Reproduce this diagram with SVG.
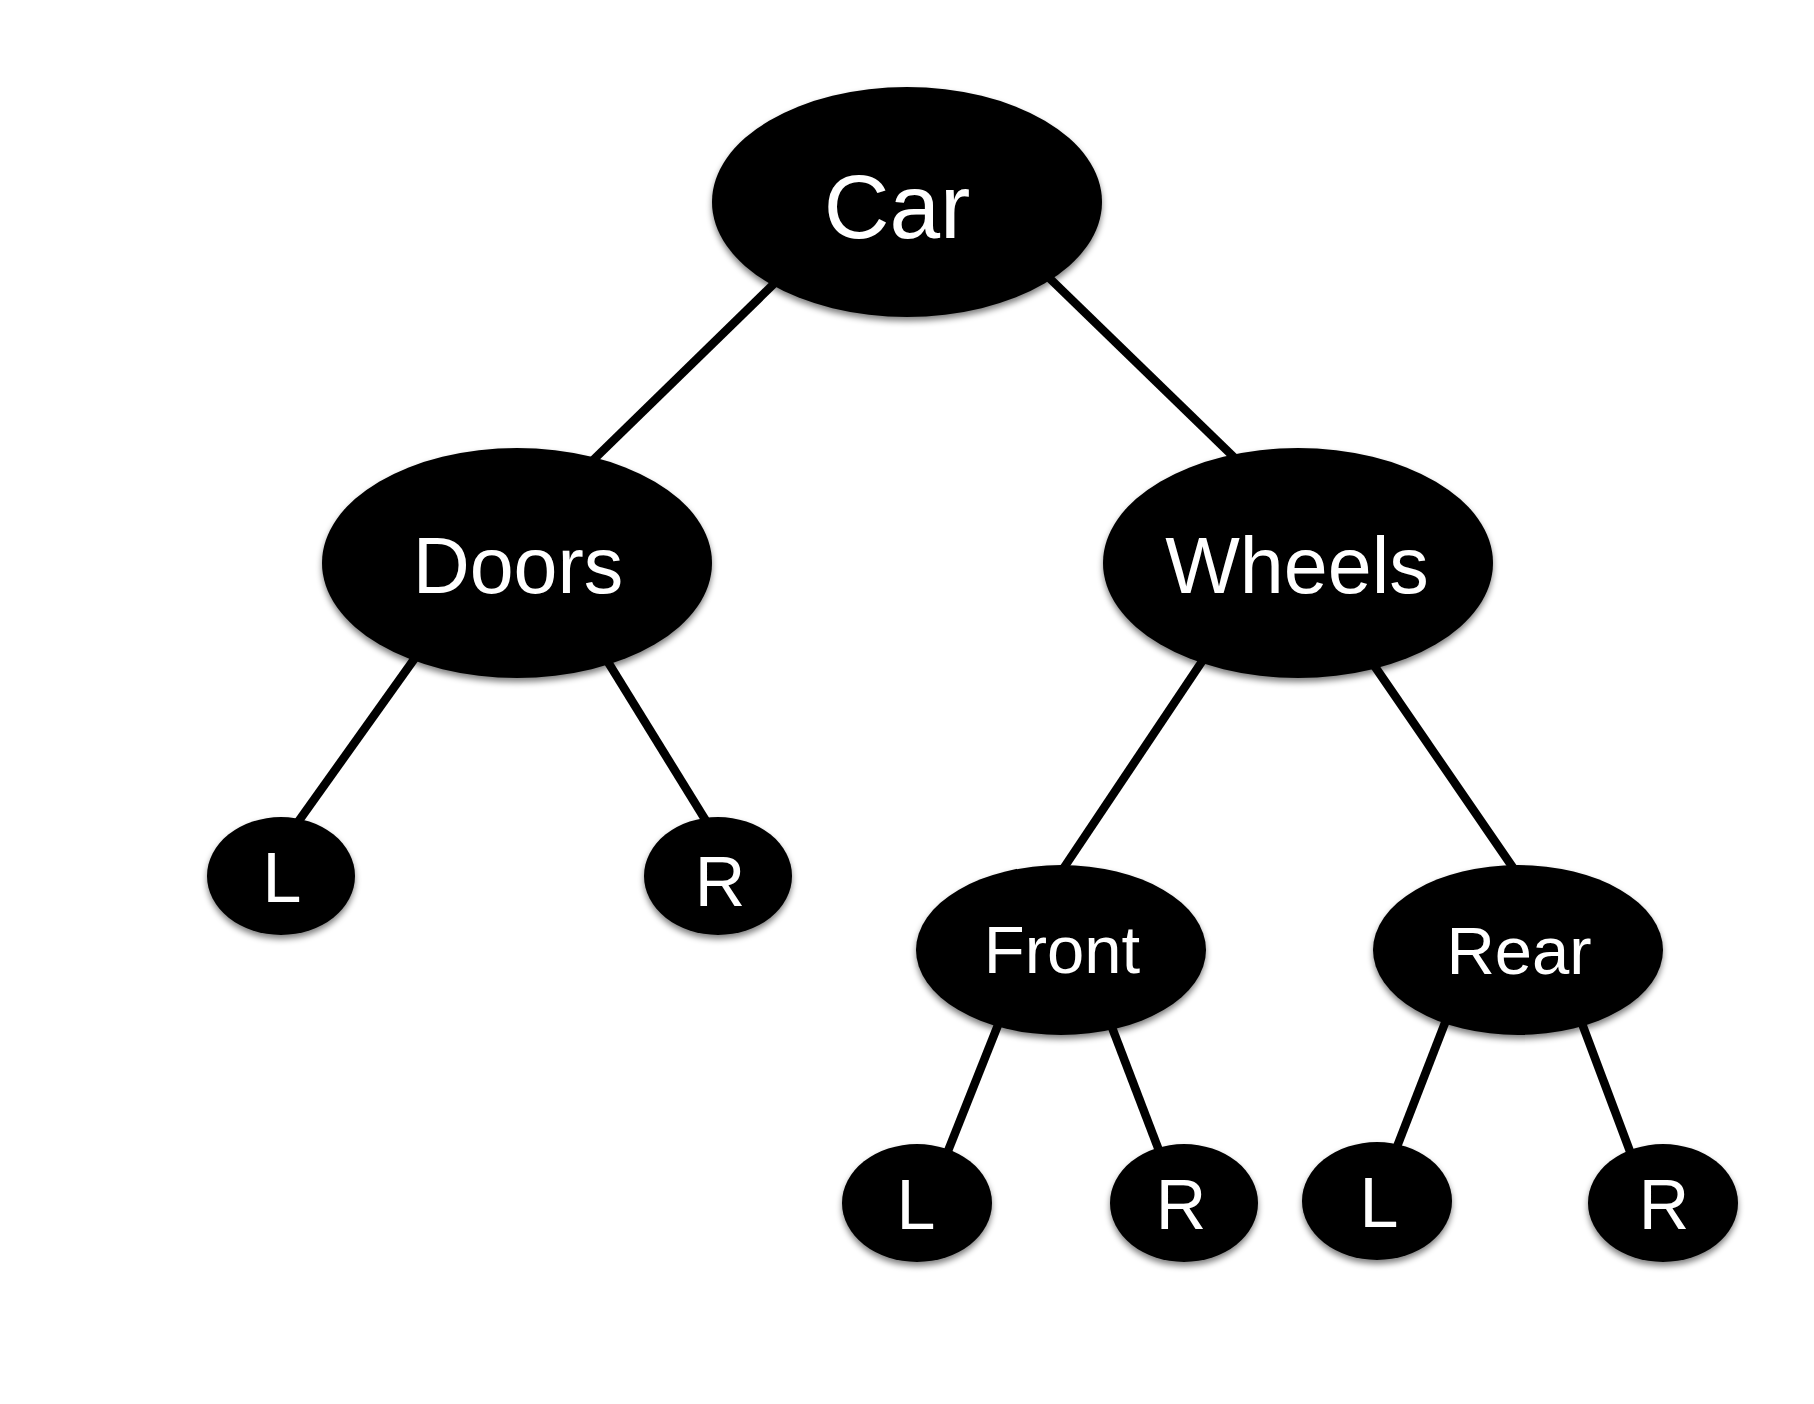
<svg xmlns="http://www.w3.org/2000/svg" width="1814" height="1404" viewBox="0 0 1814 1404">
<defs>
<filter id="sh" x="-10%" y="-10%" width="120%" height="130%">
<feGaussianBlur in="SourceAlpha" stdDeviation="3"/>
<feOffset dx="0" dy="4" result="b"/>
<feComponentTransfer><feFuncA type="linear" slope="0.5"/></feComponentTransfer>
<feMerge><feMergeNode/><feMergeNode in="SourceGraphic"/></feMerge>
</filter>
</defs>
<style>
.n ellipse{fill:#000;filter:url(#sh)}
.n text{fill:#fff;font-family:"Liberation Sans",Arial,sans-serif;text-anchor:middle}
.e line{stroke:#000;stroke-width:8.5;stroke-linecap:butt}
</style>
<rect width="1814" height="1404" fill="#fff"/>
<g id="connectors" class="e">
<line x1="785" y1="273" x2="584" y2="469"/>
<line x1="1039" y1="268" x2="1243" y2="466"/>
<line x1="420" y1="651" x2="293" y2="829"/>
<line x1="603" y1="654" x2="711" y2="829"/>
<line x1="1207" y1="654" x2="1059" y2="875"/>
<line x1="1369" y1="658" x2="1518" y2="875"/>
<line x1="1002" y1="1015" x2="944" y2="1161"/>
<line x1="1108" y1="1017" x2="1163" y2="1161"/>
<line x1="1450" y1="1010" x2="1393" y2="1157"/>
<line x1="1578" y1="1013" x2="1634" y2="1162"/>
</g>
<g id="car" class="n"><ellipse cx="907" cy="202" rx="195" ry="115"/><text x="897" y="238" font-size="91">Car</text></g>
<g id="doors" class="n"><ellipse cx="517" cy="563" rx="195" ry="115"/><text x="518" y="593" font-size="79">Doors</text></g>
<g id="wheels" class="n"><ellipse cx="1298" cy="563" rx="195" ry="115"/><text x="1297" y="593" font-size="79">Wheels</text></g>
<g id="doors-l" class="n"><ellipse cx="281" cy="876" rx="74" ry="59"/><text x="282" y="902" font-size="70">L</text></g>
<g id="doors-r" class="n"><ellipse cx="718" cy="876" rx="74" ry="59"/><text x="720" y="906" font-size="70">R</text></g>
<g id="front" class="n"><ellipse cx="1061" cy="950" rx="145" ry="85"/><text x="1062" y="973" font-size="67">Front</text></g>
<g id="rear" class="n"><ellipse cx="1518" cy="950" rx="145" ry="85"/><text x="1519" y="974" font-size="67">Rear</text></g>
<g id="front-l" class="n"><ellipse cx="917" cy="1203" rx="75" ry="59"/><text x="916" y="1229" font-size="70">L</text></g>
<g id="front-r" class="n"><ellipse cx="1184" cy="1203" rx="74" ry="59"/><text x="1181" y="1229" font-size="70">R</text></g>
<g id="rear-l" class="n"><ellipse cx="1377" cy="1201" rx="75" ry="59"/><text x="1379" y="1227" font-size="70">L</text></g>
<g id="rear-r" class="n"><ellipse cx="1663" cy="1203" rx="75" ry="59"/><text x="1664" y="1229" font-size="70">R</text></g>
</svg>
